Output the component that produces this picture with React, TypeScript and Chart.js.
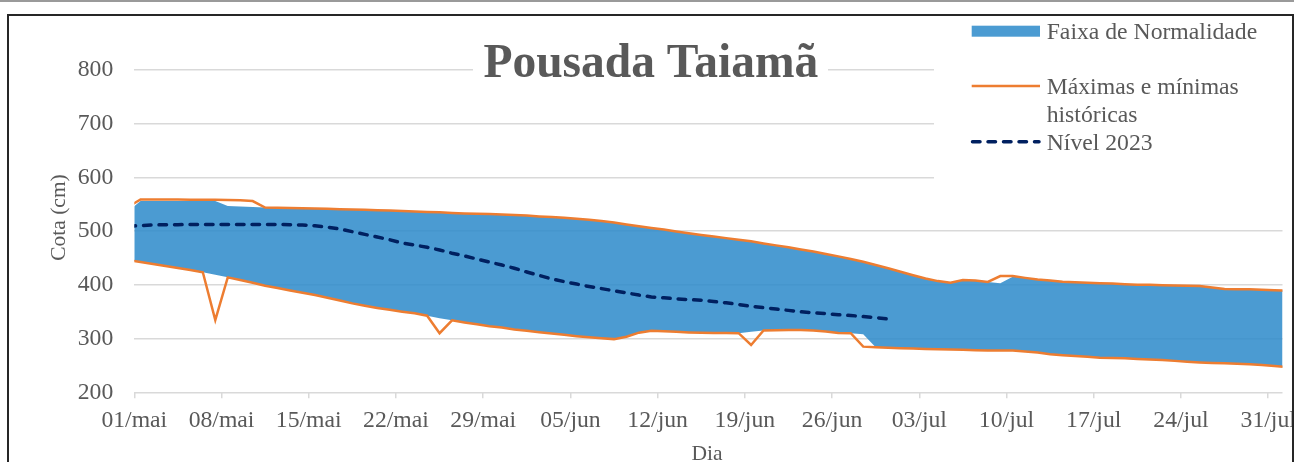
import React, { useEffect, useRef } from 'react';
import { Chart, registerables } from 'chart.js';

Chart.register(...registerables);

const FONT = "'Liberation Serif', 'Times New Roman', serif";
const TEXT = '#595959';
const BLUE = 'rgba(44,137,202,0.85)';
const ORANGE = '#ED7D31';
const NAVY = '#002060';
const GRID = '#d9d9d9';

const chartTitle = 'Pousada Taiamã';
const xTitle = 'Dia';
const yTitle = 'Cota (cm)';
const legendBand = 'Faixa de Normalidade';
const legendHist = ['Máximas e mínimas', 'históricas'];
const legendYear = 'Nível 2023';

// x ticks: days since 01/mai (00:00)
const tickLabels = ['01/mai', '08/mai', '15/mai', '22/mai', '29/mai', '05/jun', '12/jun', '19/jun', '26/jun', '03/jul', '10/jul', '17/jul', '24/jul', '31/jul'];
const tickDays = [0, 7, 14, 21, 28, 35, 42, 49, 56, 63, 70, 77, 84, 91];
const yTicks = [200, 300, 400, 500, 600, 700, 800];

// daily readings, index 0 = 30/abr, taken at mid-day
const maxHist = [
  545, 559, 559, 559, 559, 558.5, 558.5, 558.5, 558, 557.5, 556, 544,
  543.5, 543, 542.5, 542, 541.5, 541, 540.5, 540, 539, 538.5, 537.5, 536.5,
  535.5, 535, 534, 533, 532.5, 532, 531, 530,
  529, 527.5, 526.5, 525, 523, 521, 519, 516, 512.5, 509, 506, 503, 499.5, 496, 493,
  490, 487, 484, 481, 477, 473.5, 470, 466, 462, 457.5, 453, 448, 443, 437, 431, 424.5, 418, 412, 407, 404, 409, 408, 405.5,
  416.5, 416.5, 413, 410, 408, 406, 405, 404, 403, 402.5, 401, 400, 400, 399.5, 399, 398.5, 398, 395, 392.5, 392, 392, 391, 390, 389,
];

const minHist = [
  446,
  442.5, 439, 435, 431.5, 427.5, 423.5,
  334.5,
  414, 409, 404, 398.5, 394, 389.5, 385.5,
  381, 376, 371, 365.5, 361, 357, 353.5, 350, 347,
  342.5, 310, 334,
  330, 326.5, 323, 320.5, 317, 314.5, 312, 309.5, 307, 304.5, 302.5, 300.5, 299,
  303.5, 311, 314.5, 313.5, 312.5, 311.5, 311, 310.5, 310.5, 310,
  288,
  315, 315.5, 316, 316, 315, 313, 310.5, 310,
  285, 284, 283, 282, 281.5, 280.5, 280, 279.5, 279, 278.5, 278, 278, 278,
  276, 274, 271, 269, 267.5, 266, 264.5, 264, 263.5, 262, 261, 260, 258.5, 257, 255.5, 254.5, 254, 253, 252, 251, 249, 247,
];

const normUpper = [
  537, 556, 556, 556, 556, 556, 556, 556, 547, 546, 545, 544,
  543.5, 543, 542.5, 542, 541.5, 541, 540.5, 540, 539, 538.5, 537.5, 536.5,
  535.5, 535, 534, 533, 532.5, 532, 531, 530,
  529, 527.5, 526.5, 525, 523, 521, 519, 516, 512.5, 509, 506, 503, 499.5, 496, 493,
  490, 487, 484, 481, 477, 473.5, 470, 466, 462, 457.5, 453, 448, 443, 437, 431, 424.5, 418, 412, 407, 404, 409, 408, 405.5,
  403, 415, 413, 410, 408, 406, 405, 404, 403, 402.5, 401, 400, 400, 399.5, 399, 398.5, 398, 395, 392.5, 392, 392, 391, 390, 389,
];

const normLower = [
  446,
  442.5, 439, 435, 431.5, 427.5, 423.5,
  419,
  414, 409, 404, 398.5, 394, 389.5, 385.5,
  381, 376, 371, 365.5, 361, 357, 353.5, 350, 347,
  342.5, 338, 334,
  330, 326.5, 323, 320.5, 317, 314.5, 312, 309.5, 307, 304.5, 302.5, 300.5, 299,
  303.5, 311, 314.5, 313.5, 312.5, 311.5, 311, 310.5, 310.5, 310,
  312.5,
  315, 315.5, 316, 316, 315, 313, 310.5, 310,
  308, 284, 283, 282, 281.5, 280.5, 280, 279.5, 279, 278.5, 278, 278, 278,
  276, 274, 271, 269, 267.5, 266, 264.5, 264, 263.5, 262, 261, 260, 258.5, 257, 255.5, 254.5, 254, 253, 252, 251, 249, 247,
];

const nivel2023 = [
  509,
  510.5, 511.5, 512, 512, 512.5, 512.5, 512.5, 512.5, 512.5, 512.5, 512.5, 512.5, 512, 511.5,
  510, 507.5, 504, 499, 494, 489, 484, 478, 474,
  470, 465, 459, 454, 448, 442.5, 437, 431, 424, 417.5, 411, 406, 401.5, 397, 393, 389, 385, 381, 377.5, 376, 374, 372.5,
  371.5, 369, 366.5, 363.5, 360, 357.5, 355, 352.5, 350, 348, 346.5, 344.5, 343, 341, 339, 336.5,
];

// index 0 (30/abr) read at noon -> -0.5 days from 01/mai 00:00
const toPoints = (arr: number[]) => arr.map((v, i) => ({ x: i - 0.5, y: v }));

const decor = {
  id: 'decor',
  afterDraw(chart: any) {
    const ctx = chart.ctx as CanvasRenderingContext2D;
    ctx.save();
    // title with white backing
    ctx.fillStyle = '#fff';
    ctx.fillRect(473, 38, 355, 52);
    ctx.font = `bold 47.5px ${FONT}`;
    ctx.fillStyle = TEXT;
    ctx.textAlign = 'center';
    ctx.textBaseline = 'alphabetic';
    ctx.fillText(chartTitle, 650.8, 77);

    // legend with white backing
    ctx.fillStyle = '#fff';
    ctx.fillRect(934, 15, 360, 168);
    ctx.fillStyle = BLUE;
    ctx.fillRect(971.7, 25.7, 68.3, 11);

    ctx.lineWidth = 2.5;
    ctx.strokeStyle = ORANGE;
    ctx.setLineDash([]);
    ctx.beginPath();
    ctx.moveTo(971.7, 86);
    ctx.lineTo(1040, 86);
    ctx.stroke();

    ctx.lineWidth = 3.5;
    ctx.strokeStyle = NAVY;
    ctx.lineCap = 'round';
    ctx.setLineDash([7.5, 8]);
    ctx.beginPath();
    ctx.moveTo(972.5, 141.7);
    ctx.lineTo(1039, 141.7);
    ctx.stroke();
    ctx.setLineDash([]);
    ctx.lineCap = 'butt';

    ctx.font = `23.7px ${FONT}`;
    ctx.fillStyle = TEXT;
    ctx.textAlign = 'left';
    ctx.fillText(legendBand, 1046.7, 39.3);
    ctx.fillText(legendHist[0], 1046.7, 94.3);
    ctx.fillText(legendHist[1], 1046.7, 121.7);
    ctx.fillText(legendYear, 1046.7, 150);

    // axis titles
    ctx.font = `21.5px ${FONT}`;
    ctx.textAlign = 'center';
    ctx.fillText(xTitle, 707, 459.5);
    ctx.translate(59.5, 217.5);
    ctx.rotate(-Math.PI / 2);
    ctx.textBaseline = 'middle';
    ctx.fillText(yTitle, 0, 0);
    ctx.restore();
  },
};

export default function App() {
  const ref = useRef<HTMLCanvasElement | null>(null);

  useEffect(() => {
    if (!ref.current) return;
    const tickFont = { family: FONT, size: 23.7 };
    const chart = new Chart(ref.current, {
      type: 'line',
      data: {
        datasets: [
          {
            label: 'normUpper',
            data: toPoints(normUpper),
            borderColor: 'rgba(0,0,0,0)',
            borderWidth: 0,
            pointRadius: 0,
            fill: false,
            order: 4,
            clip: 0,
          },
          {
            label: legendBand,
            data: toPoints(normLower),
            borderColor: 'rgba(0,0,0,0)',
            borderWidth: 0,
            backgroundColor: BLUE,
            pointRadius: 0,
            fill: '-1',
            order: 3,
            clip: 0,
          },
          {
            label: 'Máximas históricas',
            data: toPoints(maxHist),
            borderColor: ORANGE,
            borderWidth: 2.5,
            pointRadius: 0,
            fill: false,
            order: 1,
            clip: 0,
          },
          {
            label: 'Mínimas históricas',
            data: toPoints(minHist),
            borderColor: ORANGE,
            borderWidth: 2.5,
            pointRadius: 0,
            fill: false,
            order: 1,
            clip: 0,
          },
          {
            label: legendYear,
            data: toPoints(nivel2023),
            borderColor: NAVY,
            borderWidth: 3.5,
            borderDash: [7.5, 8],
            borderCapStyle: 'round',
            pointRadius: 0,
            fill: false,
            order: 0,
            clip: 0,
          },
        ],
      },
      options: {
        animation: false,
        responsive: false,
        devicePixelRatio: 1,
        layout: { padding: { top: 70, right: 11.5, bottom: 0, left: 0 } },
        plugins: { legend: { display: false }, tooltip: { enabled: false }, title: { display: false } },
        scales: {
          x: {
            type: 'linear',
            min: 0,
            max: 92.15,
            afterBuildTicks: (axis: any) => {
              axis.ticks = tickDays.map((v) => ({ value: v }));
            },
            afterFit: (axis: any) => {
              axis.height = 69.7;
              axis.paddingLeft = 0;
              axis.paddingRight = 0;
            },
            grid: { drawOnChartArea: false, drawTicks: true, tickLength: 6, color: GRID, lineWidth: 1.5 },
            border: { display: false },
            ticks: {
              autoSkip: false,
              maxRotation: 0,
              padding: 8,
              color: TEXT,
              font: tickFont,
              callback: (_v: any, i: number) => tickLabels[i],
            },
          },
          y: {
            min: 200,
            max: 800,
            afterBuildTicks: (axis: any) => {
              axis.ticks = yTicks.map((v) => ({ value: v }));
            },
            afterFit: (axis: any) => {
              axis.width = 134.3;
            },
            grid: { color: GRID, lineWidth: 1.5, drawTicks: false },
            border: { display: false },
            ticks: { padding: 21, color: TEXT, font: tickFont },
          },
        },
      },
      plugins: [decor],
    } as any);
    return () => chart.destroy();
  }, []);

  return (
    <div style={{ position: 'fixed', left: 0, top: 0, width: 1294, height: 462, background: '#fff', overflow: 'hidden' }}>
      <canvas ref={ref} width={1294} height={462} style={{ position: 'absolute', left: 0, top: 0, width: 1294, height: 462 }} />
      <div style={{ position: 'absolute', left: 0, top: 0, width: 1294, height: 1.5, background: '#9a9a9a' }} />
      <div
        style={{
          position: 'absolute',
          left: 7,
          top: 14,
          width: 1287,
          height: 520,
          boxSizing: 'border-box',
          border: '2px solid #262626',
          pointerEvents: 'none',
        }}
      />
    </div>
  );
}
